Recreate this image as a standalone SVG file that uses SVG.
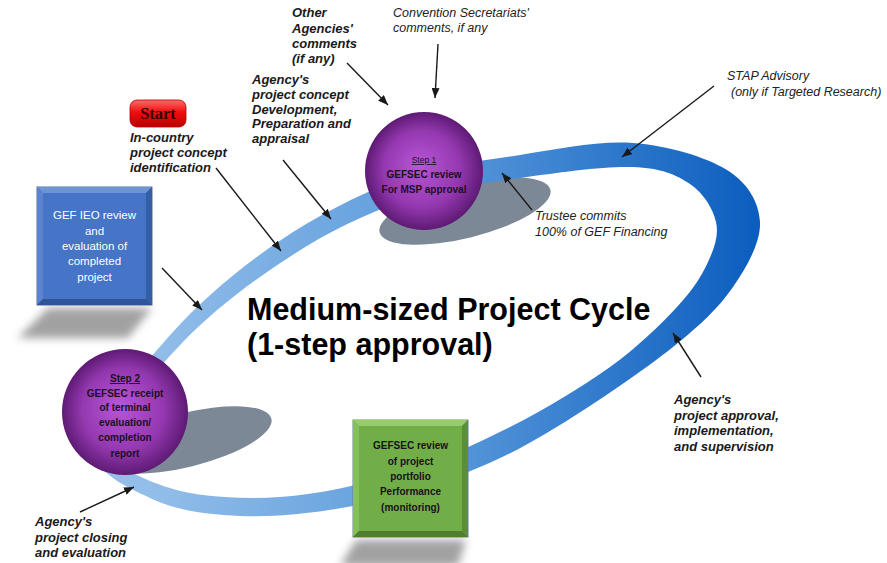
<svg xmlns="http://www.w3.org/2000/svg" width="887" height="563" viewBox="0 0 887 563">
<defs>
  <linearGradient id="ringGrad" gradientUnits="userSpaceOnUse" x1="150" y1="0" x2="760" y2="0">
    <stop offset="0" stop-color="#93BEE9"/>
    <stop offset="0.45" stop-color="#5D9CDC"/>
    <stop offset="1" stop-color="#0B5DBE"/>
  </linearGradient>
  <radialGradient id="sphere" cx="0.5" cy="0.5" r="0.5" fx="0.45" fy="0.45">
    <stop offset="0" stop-color="#B856D8"/>
    <stop offset="0.65" stop-color="#9438B0"/>
    <stop offset="1" stop-color="#5E1A74"/>
  </radialGradient>
  <linearGradient id="startGrad" x1="0" y1="0" x2="0" y2="1">
    <stop offset="0" stop-color="#FF6B6B"/>
    <stop offset="0.45" stop-color="#F20D0D"/>
    <stop offset="1" stop-color="#B80000"/>
  </linearGradient>
  <filter id="soft" x="-30%" y="-60%" width="160%" height="220%">
    <feGaussianBlur stdDeviation="4"/>
  </filter>
  <marker id="ah" viewBox="0 0 10 8" refX="10" refY="4" markerWidth="10" markerHeight="8" orient="auto" markerUnits="userSpaceOnUse">
    <path d="M0,0 L10,4 L0,8 Z" fill="#1a1a1a"/>
  </marker>
  <style>
    .lb { font-family: "Liberation Sans", Arial, sans-serif; font-size: 13px; font-weight: bold; font-style: italic; fill: #1a1a1a; }
    .li { font-family: "Liberation Sans", Arial, sans-serif; font-size: 12.5px; font-style: italic; fill: #222; }
    .nt { font-family: "Liberation Sans", Arial, sans-serif; font-size: 10px; font-weight: bold; text-anchor: middle; fill: #1c0f1f; }
    .wt { font-family: "Liberation Sans", Arial, sans-serif; font-size: 11.5px; text-anchor: middle; fill: #ffffff; }
    .title { font-family: "Liberation Sans", Arial, sans-serif; font-size: 30.5px; font-weight: bold; fill: #000; }
    .arrow { stroke: #1a1a1a; stroke-width: 1.4; fill: none; marker-end: url(#ah); }
    .stepshadow { fill: #7D8896; }
    .boxshadow { fill: #8a8a8a; opacity: 0.8; filter: url(#soft); }
  </style>
</defs>

<rect width="887" height="563" fill="#ffffff"/>

<!-- soft shadows under the square nodes -->
<polygon class="boxshadow" points="48,308 152,308 128,338 18,338"/>
<polygon class="boxshadow" points="356,540 466,540 458,566 340,566"/>

<!-- shadows cast by the two spheres -->
<ellipse class="stepshadow" cx="465" cy="211" rx="88" ry="27" transform="rotate(-14 465 211)"/>
<ellipse class="stepshadow" cx="186" cy="440" rx="88" ry="27" transform="rotate(-14 186 440)"/>

<!-- the cycle ribbon -->
<path id="ring" fill="url(#ringGrad)" fill-rule="evenodd" d="
  M 95 445
  C 98.7 417.5, 141.5 366.8, 172 333
  C 202.5 299.2, 240.3 267.5, 278 242
  C 315.7 216.5, 357.7 194.5, 398 180
  C 438.3 165.5, 480.8 161.2, 520 155
  C 559.2 148.8, 598.5 140.5, 633 143
  C 667.5 145.5, 705.8 156.8, 727 170
  C 748.2 183.2, 759 202.5, 760 222
  C 761 241.5, 747.5 266.2, 733 287
  C 718.5 307.8, 701.8 324, 673 347
  C 644.2 370, 594.2 404.2, 560 425
  C 525.8 445.8, 502.5 458.5, 468 472
  C 433.5 485.5, 391 498.7, 353 506
  C 315 513.3, 273.8 517.3, 240 516
  C 206.2 514.7, 174.2 509.8, 150 498
  C 125.8 486.2, 91.3 472.5, 95 445 Z
  M 112 442
  C 114.5 418.5, 152.7 373.7, 182 343
  C 211.3 312.3, 251.2 281.7, 288 258
  C 324.3 233.7, 364.3 214.3, 403 201
  C 441.7 187.7, 481.7 183.7, 520 178
  C 558.3 172.3, 604.7 166, 633 167
  C 661.3 168, 676.2 174.8, 690 184
  C 703.8 193.2, 713 209, 716 222
  C 719 235, 714.5 247.8, 708 262
  C 701.5 276.2, 693.3 289.5, 677 307
  C 660.7 324.5, 637.8 347, 610 367
  C 582.2 387, 545 409.3, 510 427
  C 475 444.7, 438.3 461.3, 400 473
  C 361.7 484.7, 318.3 494.5, 280 497
  C 241.7 499.5, 198 497.2, 170 488
  C 142 478.8, 110 466.2, 112 442 Z"/>

<!-- connectors -->
<g id="connectors">
  <line class="arrow" x1="347" y1="63" x2="388" y2="105"/>
  <line class="arrow" x1="438" y1="44" x2="435" y2="98"/>
  <line class="arrow" x1="714" y1="86" x2="622" y2="157"/>
  <line class="arrow" x1="532" y1="210" x2="502" y2="173"/>
  <line class="arrow" x1="701" y1="377" x2="673" y2="333"/>
  <line class="arrow" x1="80" y1="512" x2="134" y2="487"/>
  <line class="arrow" x1="162" y1="268" x2="202" y2="310"/>
  <line class="arrow" x1="216" y1="168" x2="281" y2="251"/>
  <line class="arrow" x1="283" y1="160" x2="331" y2="219"/>
</g>

<!-- Step 1 sphere -->
<g id="step1">
  <circle cx="424" cy="171" r="59" fill="url(#sphere)"/>
  <text class="nt" x="424" y="163" style="font-weight:normal;font-size:8.5px" text-decoration="underline">Step 1</text>
  <text class="nt" x="424" y="178">GEFSEC review</text>
  <text class="nt" x="424" y="193">For MSP approval</text>
</g>

<!-- Step 2 sphere -->
<g id="step2">
  <circle cx="125" cy="412" r="63" fill="url(#sphere)"/>
  <text class="nt" x="125" y="382" text-decoration="underline">Step 2</text>
  <text class="nt" x="125" y="397">GEFSEC receipt</text>
  <text class="nt" x="125" y="411">of terminal</text>
  <text class="nt" x="125" y="426">evaluation/</text>
  <text class="nt" x="125" y="441">completion</text>
  <text class="nt" x="125" y="457">report</text>
</g>

<!-- GEF IEO review box -->
<g id="ieo">
  <rect x="37" y="187" width="115" height="118" fill="#3C68B5" stroke="#5A6E8F" stroke-width="1"/>
  <polygon points="37,187 152,187 146,193 43,193" fill="#6E93D6"/>
  <polygon points="37,187 43,193 43,299 37,305" fill="#5C84CE"/>
  <polygon points="37,305 152,305 146,299 43,299" fill="#2D5598"/>
  <polygon points="152,187 152,305 146,299 146,193" fill="#345FA6"/>
  <rect x="43" y="193" width="103" height="106" fill="#4674C6"/>
  <text class="wt" x="94.5" y="219">GEF IEO review</text>
  <text class="wt" x="94.5" y="235">and</text>
  <text class="wt" x="94.5" y="250">evaluation of</text>
  <text class="wt" x="94.5" y="265">completed</text>
  <text class="wt" x="94.5" y="281">project</text>
</g>

<!-- portfolio monitoring box -->
<g id="monitoring">
  <rect x="353" y="420" width="115" height="117" fill="#6AA443" stroke="#6F7F8F" stroke-width="1"/>
  <polygon points="353,420 468,420 462,426 359,426" fill="#94CC6E"/>
  <polygon points="353,420 359,426 359,531 353,537" fill="#84C05C"/>
  <polygon points="353,537 468,537 462,531 359,531" fill="#4E7E2E"/>
  <polygon points="468,420 468,537 462,531 462,426" fill="#5B8F37"/>
  <rect x="359" y="426" width="103" height="105" fill="#71AE48"/>
  <text class="nt" x="410.5" y="449">GEFSEC review</text>
  <text class="nt" x="410.5" y="465">of project</text>
  <text class="nt" x="410.5" y="480">portfolio</text>
  <text class="nt" x="410.5" y="495">Performance</text>
  <text class="nt" x="410.5" y="511">(monitoring)</text>
</g>

<!-- Start button -->
<g id="start">
  <rect x="130" y="100" width="56" height="27" rx="7" fill="url(#startGrad)" stroke="#B00000" stroke-width="0.8"/>
  <text x="158" y="119" text-anchor="middle" font-family="'Liberation Serif', 'Times New Roman', serif" font-size="16.5" font-weight="bold" fill="#3a0000">Start</text>
</g>

<!-- title -->
<g id="title">
  <text class="title" x="247" y="320">Medium-sized Project Cycle</text>
  <text class="title" x="247" y="355">(1-step approval)</text>
</g>

<!-- annotations -->
<g id="lbl-other">
  <text class="lb" x="292" y="17">Other</text>
  <text class="lb" x="292" y="33">Agencies'</text>
  <text class="lb" x="292" y="48">comments</text>
  <text class="lb" x="292" y="63">(if any)</text>
</g>
<g id="lbl-convention">
  <text class="li" x="393" y="17">Convention Secretariats'</text>
  <text class="li" x="393" y="32">comments, if any</text>
</g>
<g id="lbl-concept">
  <text class="lb" x="252" y="84">Agency's</text>
  <text class="lb" x="252" y="99">project concept</text>
  <text class="lb" x="252" y="114">Development,</text>
  <text class="lb" x="252" y="128">Preparation and</text>
  <text class="lb" x="252" y="143">appraisal</text>
</g>
<g id="lbl-incountry">
  <text class="lb" x="130" y="142">In-country</text>
  <text class="lb" x="130" y="157">project concept</text>
  <text class="lb" x="130" y="172">identification</text>
</g>
<g id="lbl-stap">
  <text class="li" x="727" y="80">STAP Advisory</text>
  <text class="li" x="731" y="96">(only if Targeted Research)</text>
</g>
<g id="lbl-trustee">
  <text class="li" x="535" y="220">Trustee commits</text>
  <text class="li" x="535" y="236">100% of GEF Financing</text>
</g>
<g id="lbl-approval">
  <text class="lb" x="674" y="404">Agency's</text>
  <text class="lb" x="674" y="420">project approval,</text>
  <text class="lb" x="674" y="435">implementation,</text>
  <text class="lb" x="674" y="451">and supervision</text>
</g>
<g id="lbl-closing">
  <text class="lb" x="35" y="526">Agency's</text>
  <text class="lb" x="35" y="542">project closing</text>
  <text class="lb" x="35" y="557">and evaluation</text>
</g>
</svg>
